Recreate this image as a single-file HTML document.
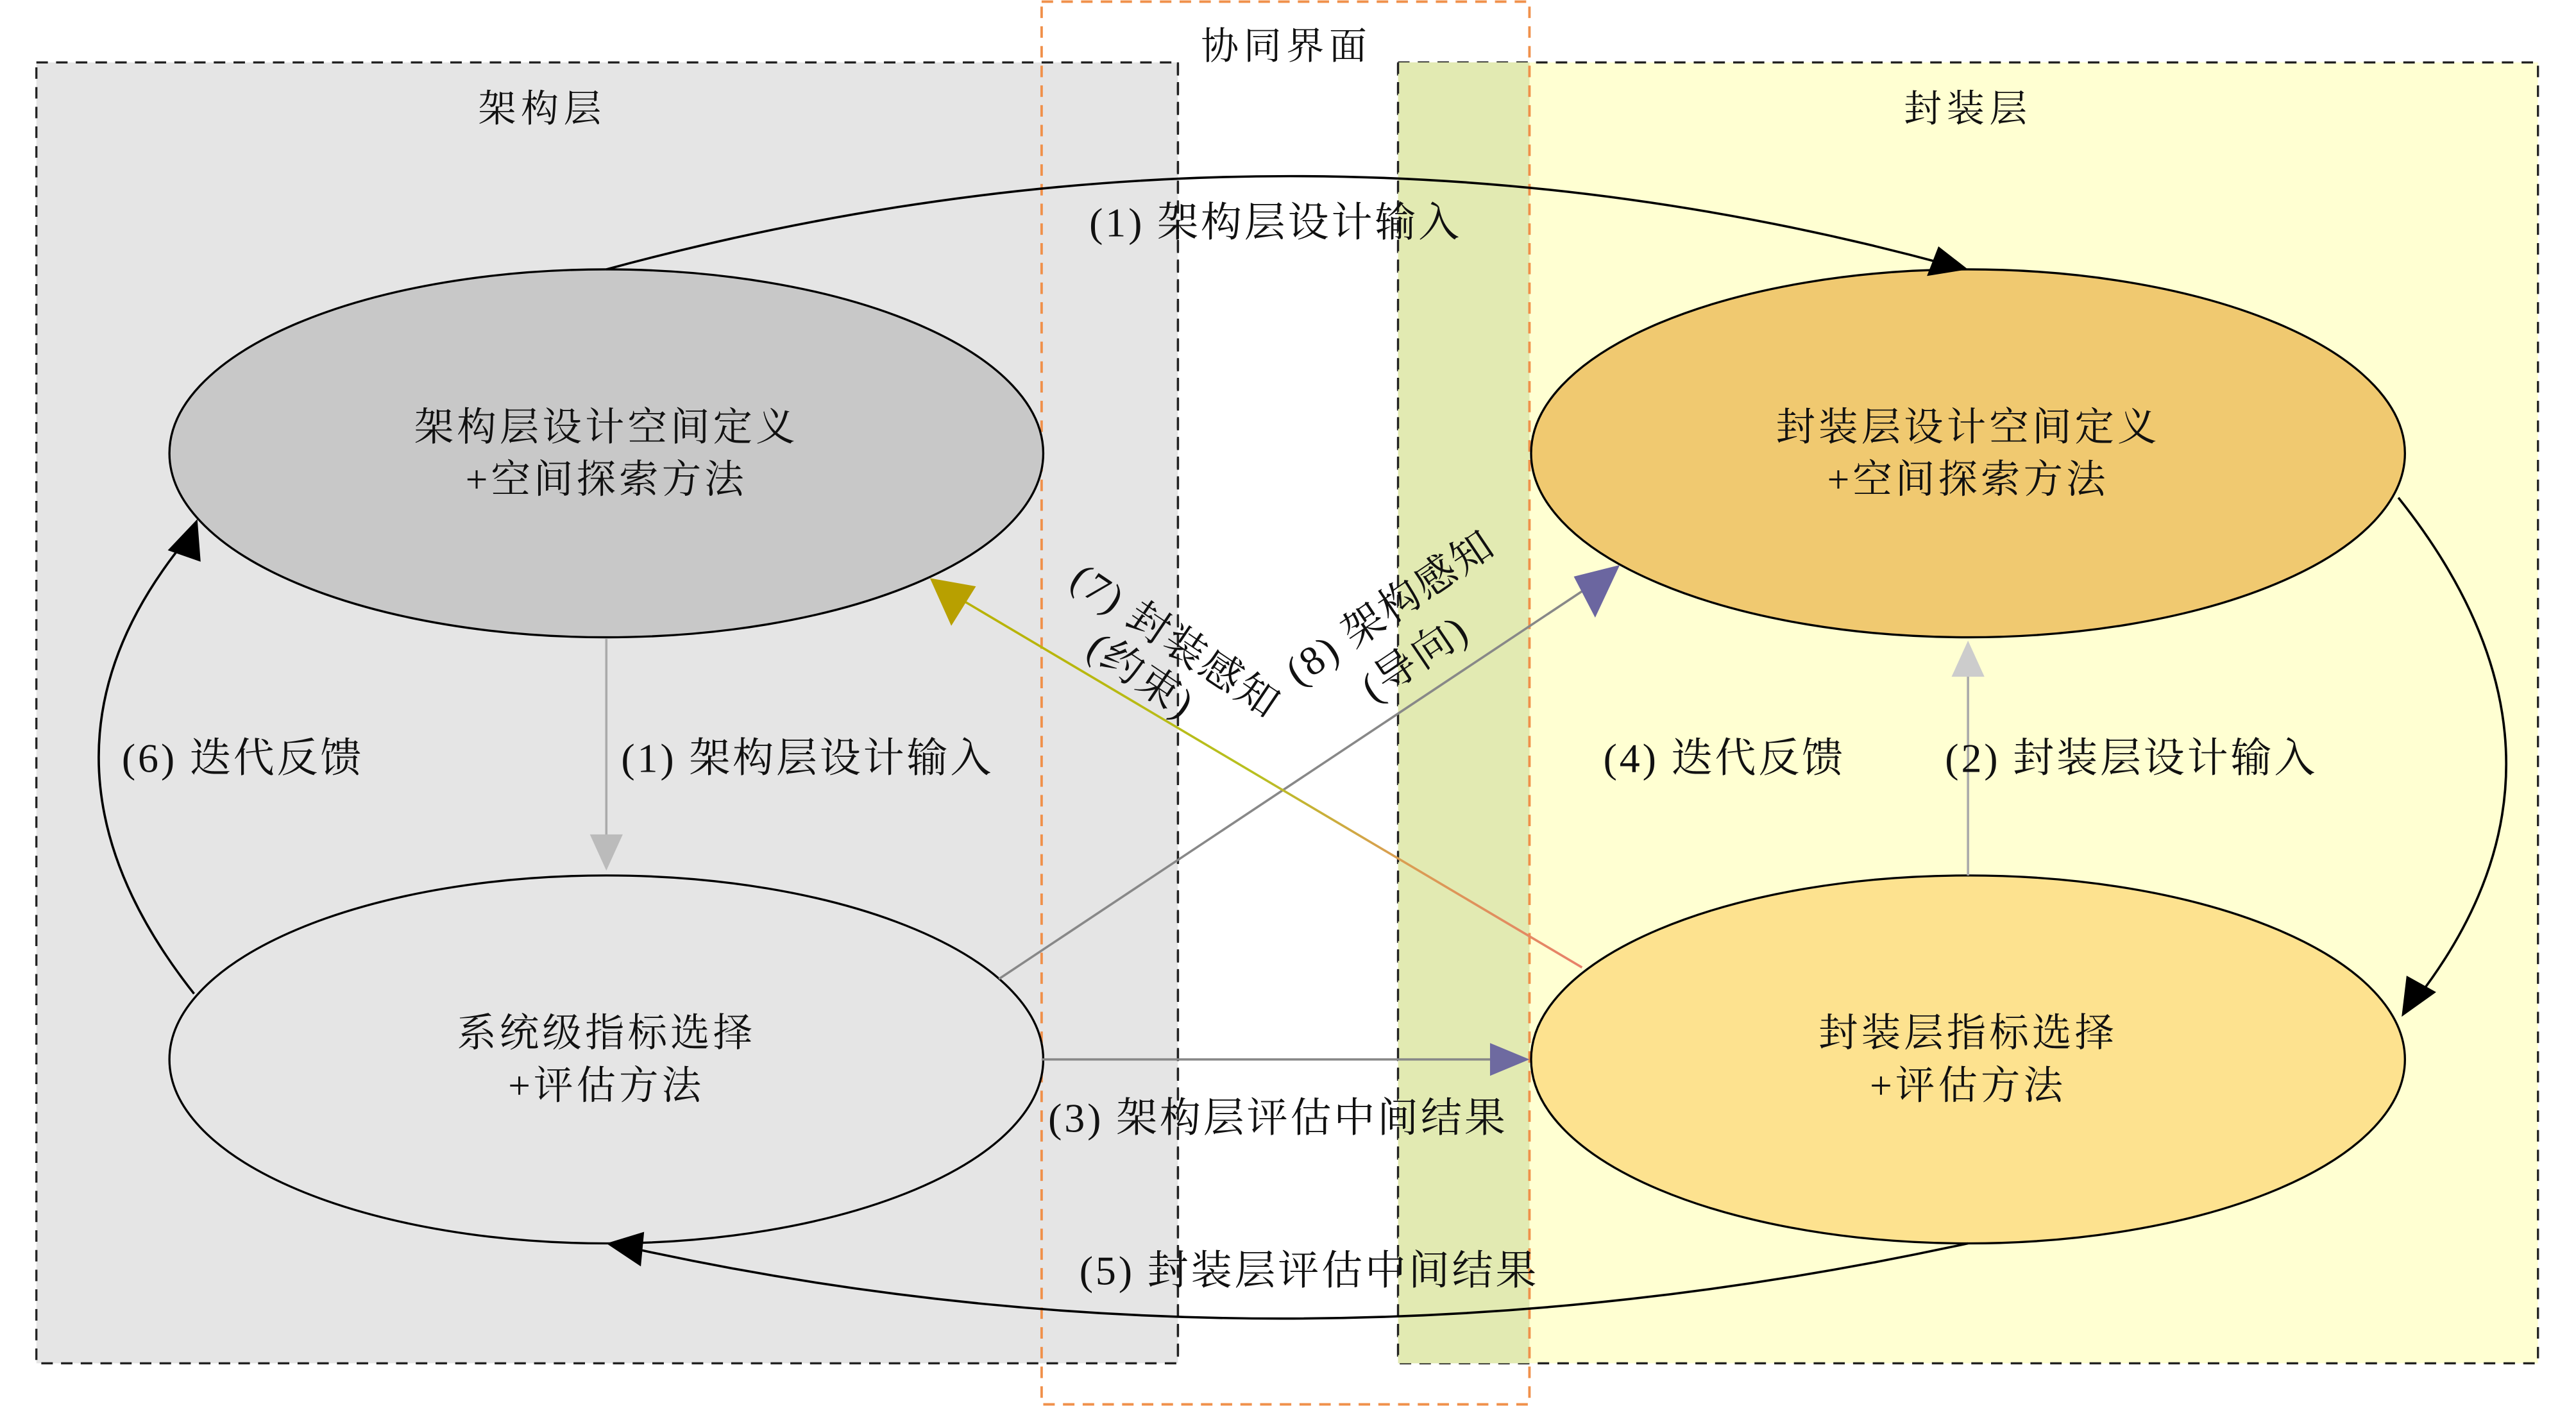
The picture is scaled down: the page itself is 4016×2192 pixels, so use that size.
<!DOCTYPE html>
<html><head><meta charset="utf-8"><style>
html,body{margin:0;padding:0;background:#fff}
svg{display:block}
text{font-family:"Liberation Serif","Noto Serif CJK SC","Noto Sans CJK SC",serif;fill:#111}
</style></head><body>
<svg width="4016" height="2192" viewBox="0 0 1568 856" xmlns="http://www.w3.org/2000/svg">
<defs>
<linearGradient id="g7" x1="963" y1="589" x2="566" y2="353" gradientUnits="userSpaceOnUse">
<stop offset="0" stop-color="#e8806a"/><stop offset="0.3" stop-color="#d8a050"/><stop offset="0.5" stop-color="#b8c020"/><stop offset="1" stop-color="#b8b000"/></linearGradient>
</defs>
<rect x="22" y="38" width="695" height="792" fill="#e5e5e5" stroke="#222" stroke-width="1.3" stroke-dasharray="7,5"/>
<rect x="851" y="38" width="694" height="792" fill="#ffffd2" stroke="#222" stroke-width="1.3" stroke-dasharray="7,5"/>
<rect x="851" y="38" width="80" height="792" fill="#e2eab2"/>
<line x1="851" y1="38" x2="851" y2="830" stroke="#222" stroke-width="1.3" stroke-dasharray="7,5"/>
<line x1="717" y1="38" x2="717" y2="830" stroke="#222" stroke-width="1.3" stroke-dasharray="7,5"/>
<rect x="634" y="1" width="297" height="854" fill="none" stroke="#f0904a" stroke-width="1.5" stroke-dasharray="7,5"/>
<text x="783" y="36" font-size="23" letter-spacing="3" text-anchor="middle">协同界面</text>
<text x="330" y="74" font-size="23" letter-spacing="3" text-anchor="middle">架构层</text>
<text x="1198" y="74" font-size="23" letter-spacing="3" text-anchor="middle">封装层</text>

<ellipse cx="369" cy="276" rx="266" ry="112" fill="#c8c8c8" stroke="#000" stroke-width="1.3"/>
<ellipse cx="369" cy="645" rx="266" ry="112" fill="#e5e5e5" stroke="#000" stroke-width="1.3"/>
<ellipse cx="1198" cy="276" rx="266" ry="112" fill="#f0c970" stroke="#000" stroke-width="1.3"/>
<ellipse cx="1198" cy="645" rx="266" ry="112" fill="#fde28f" stroke="#000" stroke-width="1.3"/>

<g font-size="24" letter-spacing="2" text-anchor="middle">
<text x="369" y="268">架构层设计空间定义</text><text x="369" y="300">+空间探索方法</text>
<text x="369" y="637">系统级指标选择</text><text x="369" y="669">+评估方法</text>
<text x="1198" y="268">封装层设计空间定义</text><text x="1198" y="300">+空间探索方法</text>
<text x="1198" y="637">封装层指标选择</text><text x="1198" y="669">+评估方法</text>
</g>

<g fill="none" stroke-width="1.4">
<path d="M369,164 Q783,52 1185,161" stroke="#000"/>
<path d="M118,605 Q5,462 112,330" stroke="#000"/>
<path d="M1460,303 Q1585,460 1472,607" stroke="#000"/>
<path d="M1198,757 Q783,847 385,760" stroke="#000"/>
<line x1="369" y1="389" x2="369" y2="518" stroke="#aaa"/>
<line x1="1198" y1="533" x2="1198" y2="405" stroke="#aaa"/>
<line x1="634" y1="645" x2="915" y2="645" stroke="#888"/>
<line x1="608" y1="596" x2="972" y2="354" stroke="#888"/>
<line x1="963" y1="589" x2="580" y2="362" stroke="url(#g7)"/>
</g>
<g stroke="none">
<polygon points="1198,164 1173,168 1180,150" fill="#000"/>
<polygon points="120,316 122,342 102,335" fill="#000"/>
<polygon points="1462,619 1465,594 1483,604" fill="#000"/>
<polygon points="369,757 392,750 390,771" fill="#000"/>
<polygon points="369,530 359,508 379,508" fill="#bbb"/>
<polygon points="1198,390 1188,412 1208,412" fill="#ccc"/>
<polygon points="931,645 907,635 907,655" fill="#6e6aa0"/>
<polygon points="986,344 958,351 971,376" fill="#6b66a0"/>
<polygon points="566,352 594,357 579,381" fill="#b8a000"/>
</g>

<g font-size="25" letter-spacing="1.5">
<text x="663" y="144">(1) 架构层设计输入</text>
<text x="378" y="470">(1) 架构层设计输入</text>
<text x="74" y="470">(6) 迭代反馈</text>
<text x="976" y="470">(4) 迭代反馈</text>
<text x="1184" y="470">(2) 封装层设计输入</text>
<text x="638" y="689">(3) 架构层评估中间结果</text>
<text x="657" y="782">(5) 封装层评估中间结果</text>
<text transform="translate(650,356) rotate(34)">(7) 封装感知</text>
<text transform="translate(660,398) rotate(34)">(约束)</text>
<text transform="translate(790,418) rotate(-34)">(8) 架构感知</text>
<text transform="translate(836,428) rotate(-34)">(导向)</text>
</g>
</svg>
</body></html>
